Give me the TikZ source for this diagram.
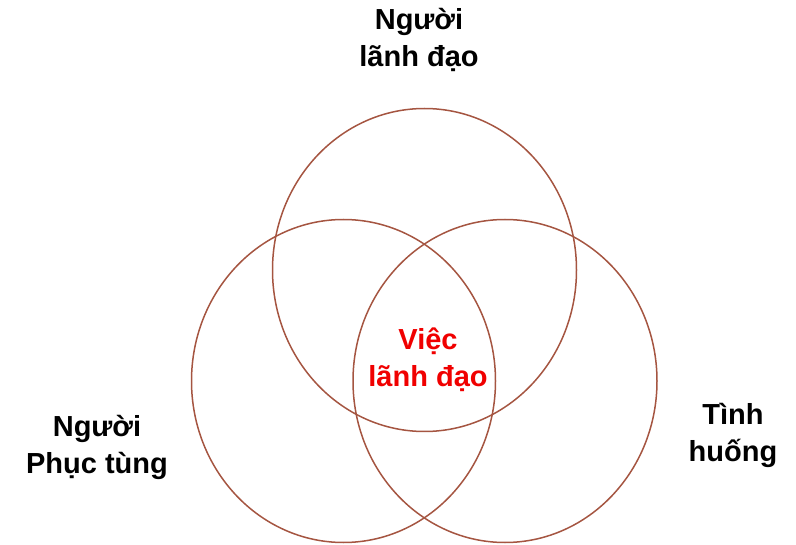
\documentclass[tikz,border=0pt]{standalone}
\usepackage{fontspec}
\setmainfont{Liberation Sans}
\definecolor{ringc}{RGB}{165,85,65}
\definecolor{redtxt}{RGB}{240,0,0}
\begin{document}
\begin{tikzpicture}[x=1pt,y=-1pt,
  ring/.style={draw=ringc, line width=1.5pt},
  lab/.style={font=\fontsize{29}{37}\selectfont\bfseries, align=center, text=black, inner sep=0pt}]
\useasboundingbox (0,0) rectangle (796,545);
\draw[ring] (424.5,270) ellipse [x radius=152, y radius=161.5];
\draw[ring] (343.5,381) ellipse [x radius=152, y radius=161.5];
\draw[ring] (505,381) ellipse [x radius=152, y radius=161.5];
\node[lab] (leader) at (419,40) {Người\\lãnh đạo};
\node[lab] (follower) at (97,447) {Người\\Phục tùng};
\node[lab] (situation) at (733,435) {Tình\\huống};
\node[lab, text=redtxt] (leading) at (428,360) {Việc\\lãnh đạo};
\end{tikzpicture}
\end{document}
